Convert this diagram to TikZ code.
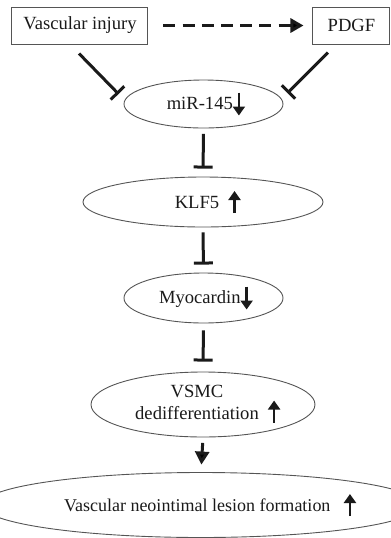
\documentclass[tikz,border=0pt]{standalone}
\usepackage{fontspec}
\setmainfont{Liberation Serif}
\usetikzlibrary{arrows.meta,shapes.geometric}
\definecolor{Ink}{HTML}{1A1A1A}
\definecolor{Frame}{HTML}{555555}
\newcommand{\uparr}{\tikz[baseline=0pt]\draw[line width=1.2pt,-{Triangle[length=4.5pt,width=6pt]}] (0pt,-2.5pt) -- (0pt,8.5pt);}
\newcommand{\dnarr}{\tikz[baseline=0pt]\draw[line width=1.2pt,-{Triangle[length=4.5pt,width=6pt]}] (0pt,8.5pt) -- (0pt,-3pt);}
\tikzset{box/.style={draw=Frame,line width=0.5pt,inner sep=0pt,text=Ink,
    font=\fontsize{9.3}{11}\selectfont},
  oval/.style={ellipse,draw=Frame,line width=0.45pt,inner sep=0pt,align=center,
    text=Ink,font=\fontsize{9.3}{11}\selectfont},
  inhib/.style={-{Bar[width=9.5pt]},line width=1.5pt,draw=Ink},
  edge/.style={-{Triangle[length=6.5pt,width=7pt]},line width=1.5pt,draw=Ink},
  dashedge/.style={edge,dashed,dash pattern=on 6pt off 3.6pt}}

\begin{document}
\begin{tikzpicture}[x=0.5pt,y=-0.5pt]
  \useasboundingbox (0,0) rectangle (391,538);
  \node[box,minimum width=68pt,minimum height=18.5pt] (inj) at (80,25.5) {Vascular injury};
  \node[box,minimum width=38.5pt,minimum height=18.5pt] (pdgf) at (351.5,25.5) {PDGF};
  \node[oval,minimum width=79.5pt,minimum height=24pt] (mir) at (203.5,104) {\ miR-145\dnarr};
  \node[oval,minimum width=120pt,minimum height=25pt] (klf) at (203,202) {\ \ KLF5\ \ \uparr};
  \node[oval,minimum width=79.5pt,minimum height=25pt] (myo) at (203.5,298) {\ Myocardin\dnarr};
  \node[oval,minimum width=112pt,minimum height=32.5pt] (vsmc) at (203,404.5)
    {\ \ \begin{tabular}{@{}c@{}}VSMC\\dedifferentiation\end{tabular}\ \ \raisebox{-1ex}{\uparr}};
  \node[oval,minimum width=189pt,minimum height=32.5pt,font=\fontsize{9}{11}\selectfont] (les) at (201,505)
    {\ \ \ \ Vascular neointimal lesion formation\ \ \ \uparr};

  % upstream signals
  \draw[dashedge,shorten <=7.5pt,shorten >=4.5pt] (inj.east) -- (pdgf.west);
  \draw[inhib] ([shift={(-1,9)}]inj.south) -- ([shift={(-5,-10)}]mir.west);
  \draw[inhib] ([shift={(-23.5,8)}]pdgf.south) -- ([shift={(4,-11)}]mir.east);

  % cascade
  \draw[inhib,shorten <=2.75pt,shorten >=4pt] (mir.south) -- (klf.north);
  \draw[inhib,shorten <=2.5pt,shorten >=4pt] (klf.south) -- (myo.north);
  \draw[inhib,shorten <=3.5pt,shorten >=5pt] (myo.south) -- (vsmc.north);
  \draw[edge,shorten <=2.75pt,shorten >=3.75pt] (vsmc.south) -- (les.north);
\end{tikzpicture}
\end{document}
